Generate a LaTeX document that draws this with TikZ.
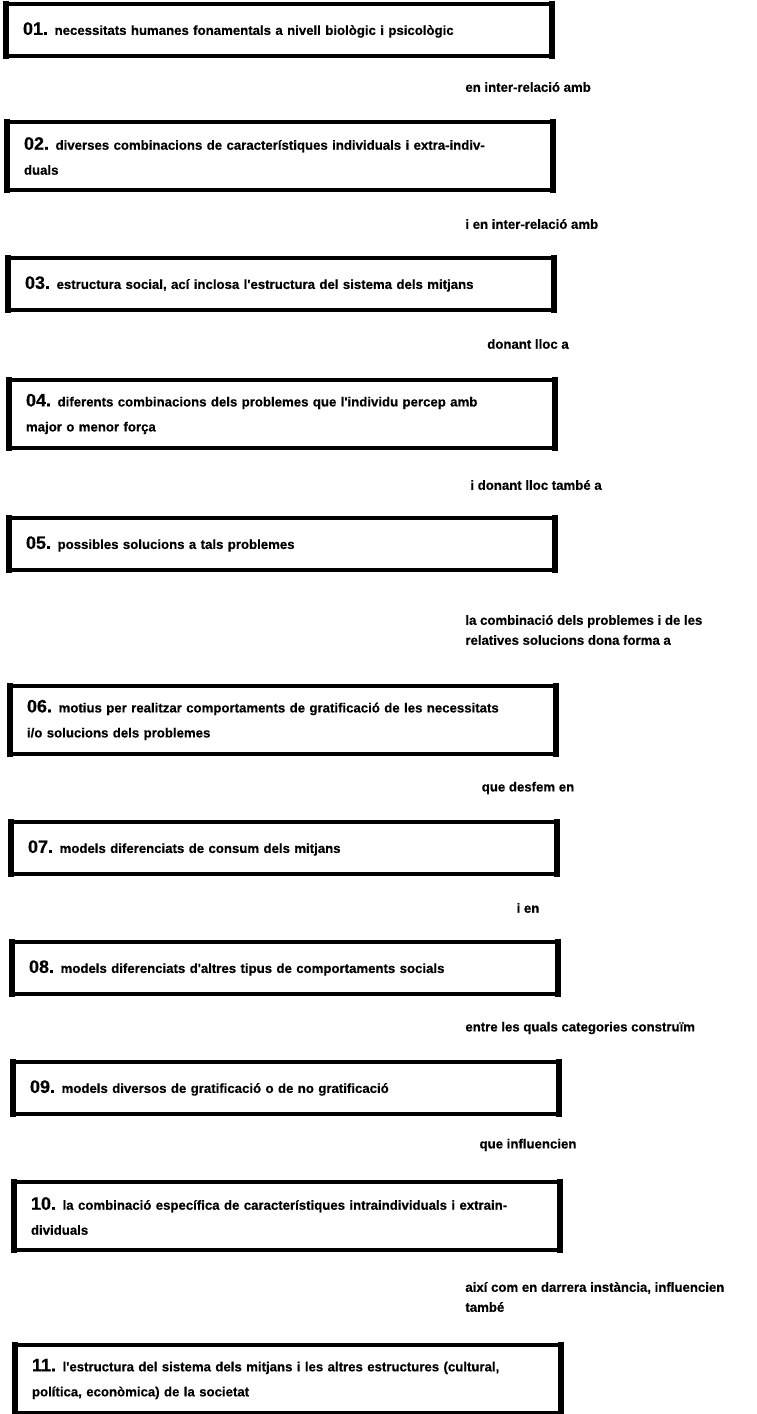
\documentclass[tikz,border=0pt]{standalone}
\usepackage{fontspec}
\setmainfont{Liberation Sans}
\newfontfamily\bodyfont{Liberation Sans}[BoldFeatures={FakeBold=0.5}]
\newcommand\itemnum[1]{{\fontsize{9pt}{12.5pt}\selectfont #1}}
\begin{document}
\begin{tikzpicture}[x=0.5pt,y=-0.5pt,
  txt/.style={font=\bodyfont\bfseries\fontsize{6.6pt}{10pt}\selectfont, inner sep=0pt},
  box/.style={draw, line width=2pt, outer sep=0pt, anchor=north west,
    minimum width=273pt, inner xsep=8.5pt, inner ysep=0pt, text width=256pt,
    align=left, font=\bodyfont\bfseries\fontsize{6.6pt}{12.5pt}\selectfont},
  onebox/.style={box, minimum height=26pt},
  twobox/.style={box, minimum height=34pt},
  sideline/.style={line width=3pt, line cap=rect},
  leftlab/.style={txt, anchor=west, align=left},
  midlab/.style={txt, anchor=center, align=center}]
\useasboundingbox (0,0) rectangle (756,1414);

% the eleven stages
\node[onebox] (b1) at (6,4)      {\itemnum{01.} necessitats humanes fonamentals a nivell biològic i psicològic};
\node[twobox] (b2) at (7,122)    {\itemnum{02.} diverses combinacions de característiques individuals i extra-indiv-\\duals};
\node[onebox] (b3) at (8,258)    {\itemnum{03.} estructura social, ací inclosa l'estructura del sistema dels mitjans};
\node[twobox] (b4) at (9,380)    {\itemnum{04.} diferents combinacions dels problemes que l'individu percep amb\\major o menor força};
\node[onebox] (b5) at (9,518)    {\itemnum{05.} possibles solucions a tals problemes};
\node[twobox] (b6) at (10,686)   {\itemnum{06.} motius per realitzar comportaments de gratificació de les necessitats\\i/o solucions dels problemes};
\node[onebox] (b7) at (11,822)   {\itemnum{07.} models diferenciats de consum dels mitjans};
\node[onebox] (b8) at (12,942)   {\itemnum{08.} models diferenciats d'altres tipus de comportaments socials};
\node[onebox] (b9) at (13,1062)  {\itemnum{09.} models diversos de gratificació o de no gratificació};
\node[twobox] (b10) at (14,1182) {\itemnum{10.} la combinació específica de característiques intraindividuals i extrain-\\dividuals};
\node[twobox] (b11) at (15,1345) {\itemnum{11.} l'estructura del sistema dels mitjans i les altres estructures (cultural,\\política, econòmica) de la societat};

% heavier vertical sides
\foreach \b in {b1,b2,b3,b4,b5,b6,b7,b8,b9,b10,b11}
  \draw[sideline] (\b.north west) -- (\b.south west) (\b.north east) -- (\b.south east);

% linking phrases
\node[leftlab] (l1) at (465,87)   {en inter-relació amb};
\node[leftlab] (l2) at (465,224)  {i en inter-relació amb};
\node[midlab]  (l3) at (528,344)  {donant lloc a};
\node[leftlab] (l4) at (470,485)  {i donant lloc també a};
\node[leftlab] (l5) at (465,630)  {la combinació dels problemes i de les\\relatives solucions dona forma a};
\node[midlab]  (l6) at (528,788)  {que desfem en};
\node[midlab]  (l7) at (528,908)  {i en};
\node[leftlab] (l8) at (465,1028) {entre les quals categories construïm};
\node[midlab]  (l9) at (528,1145) {que influencien};
\node[leftlab] (l10) at (465,1297) {així com en darrera instància, influencien\\també};
\end{tikzpicture}
\end{document}
